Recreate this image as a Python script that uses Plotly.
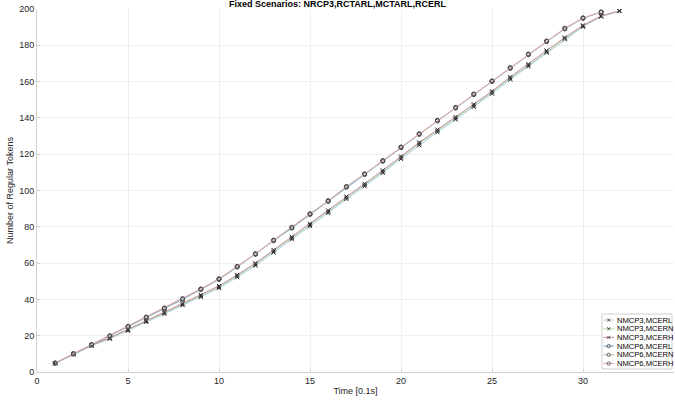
import plotly.graph_objects as go

x3 = list(range(1, 33))
x6 = list(range(1, 32))

n3_L = [4.7, 9.7, 14.4, 18.3, 22.7, 27.5, 32.0, 36.8, 41.3, 46.2, 52.2, 58.6, 65.8, 73.1, 80.3, 87.6,
        95.3, 102.3, 109.7, 117.4, 125.0, 132.1, 139.1, 146.1, 153.3, 161.1, 168.4, 175.9, 183.3, 190.2, 195.8, 198.9]
n3_N = [4.8, 9.9, 14.6, 18.6, 23.1, 28.0, 32.5, 37.3, 41.9, 46.8, 52.9, 59.3, 66.5, 73.8, 81.0, 88.3,
        96.0, 103.0, 110.4, 118.1, 125.8, 132.8, 139.8, 146.8, 154.0, 161.8, 169.0, 176.5, 183.8, 190.6, 196.0, 198.9]
n3_H = [4.9, 10.0, 14.8, 18.9, 23.5, 28.4, 33.0, 37.8, 42.5, 47.4, 53.5, 60.0, 67.2, 74.5, 81.7, 89.0,
        96.7, 103.7, 111.1, 118.8, 126.5, 133.5, 140.5, 147.5, 154.7, 162.5, 169.6, 177.1, 184.3, 191.0, 196.2, 198.9]

n6_L = [4.9, 9.9, 14.9, 19.7, 24.8, 29.9, 34.9, 40.0, 45.4, 51.0, 57.8, 64.8, 72.3, 79.3, 86.8, 94.0,
        101.8, 108.8, 116.1, 123.6, 130.9, 138.3, 145.4, 152.8, 160.0, 167.3, 174.8, 182.0, 189.0, 194.9, 198.3]
n6_N = [4.9, 10.0, 15.0, 19.8, 25.0, 30.1, 35.1, 40.2, 45.6, 51.2, 58.0, 65.0, 72.5, 79.5, 87.0, 94.2,
        102.0, 109.0, 116.3, 123.8, 131.1, 138.5, 145.6, 153.0, 160.2, 167.5, 175.0, 182.2, 189.2, 195.0, 198.3]
n6_H = [5.0, 10.1, 15.1, 20.0, 25.2, 30.3, 35.3, 40.4, 45.8, 51.4, 58.2, 65.2, 72.7, 79.7, 87.2, 94.4,
        102.2, 109.2, 116.5, 124.0, 131.3, 138.7, 145.8, 153.2, 160.4, 167.7, 175.2, 182.4, 189.4, 195.1, 198.3]

names = ["NMCP3,MCERL", "NMCP3,MCERN", "NMCP3,MCERH", "NMCP6,MCERL", "NMCP6,MCERN", "NMCP6,MCERH"]
xs = [x3, x3, x3, x6, x6, x6]
ys = [n3_L, n3_N, n3_H, n6_L, n6_N, n6_H]
line_colors = ["#a9d0ec", "#b2dca6", "#c58994", "#6fa6d6", "#a9c59b", "#e6a7b5"]
symbols = ["x-thin-open", "x-thin-open", "x-thin-open", "circle-open", "circle-open", "circle-open"]
marker_colors = ["#2b2b2b", "#2b2b2b", "#2b2b2b", "#4d4d4d", "#4d4d4d", "#4d4d4d"]

W, H = 675, 402
ML, MR, MT, MB = 37, 1, 9, 30
PW, PH = W - ML - MR, H - MT - MB

fig = go.Figure()
for n, x, y, lc, s, mc in zip(names, xs, ys, line_colors, symbols, marker_colors):
    fig.add_trace(go.Scatter(
        x=x, y=y, name=n, mode="lines+markers", showlegend=False,
        line=dict(color=lc, width=1),
        marker=dict(symbol=s, size=4, color=mc, line=dict(color=mc, width=1)),
    ))

# compact legend (MATLAB-like) built from the series lists
def px2x(px):
    return (px - ML) / PW

def py2y(py):
    return (H - MB - py) / PH

shapes = []
annotations = []
box_l, box_r, box_t, box_b = 602, 672, 314, 369
shapes.append(dict(type="rect", xref="paper", yref="paper",
                   x0=px2x(box_l), x1=px2x(box_r), y0=py2y(box_b), y1=py2y(box_t),
                   line=dict(color="#cfcfcf", width=1), fillcolor="white", layer="above"))
for i, (n, lc, s, mc) in enumerate(zip(names, line_colors, symbols, marker_colors)):
    yc = 320 + i * 8.7
    shapes.append(dict(type="line", xref="paper", yref="paper",
                       x0=px2x(603.5), x1=px2x(614), y0=py2y(yc), y1=py2y(yc),
                       line=dict(color=lc, width=1), layer="above"))
    xa, ya = px2x(608.7), py2y(yc)
    if s.startswith("x"):
        for (a0, b0, a1, b1) in [(-1.5, -1.5, 1.5, 1.5), (-1.5, 1.5, 1.5, -1.5)]:
            shapes.append(dict(type="line", xref="paper", yref="paper", xsizemode="pixel", ysizemode="pixel",
                               xanchor=xa, yanchor=ya, x0=a0, y0=b0, x1=a1, y1=b1,
                               line=dict(color=mc, width=0.8), layer="above"))
    else:
        shapes.append(dict(type="circle", xref="paper", yref="paper", xsizemode="pixel", ysizemode="pixel",
                           xanchor=xa, yanchor=ya, x0=-1.7, y0=-1.7, x1=1.7, y1=1.7,
                           line=dict(color=mc, width=0.8), layer="above"))
    annotations.append(dict(text=n, xref="paper", yref="paper", x=px2x(615.5), y=py2y(yc),
                            xanchor="left", yanchor="middle", showarrow=False, borderpad=0,
                            font=dict(size=7.6, color="#000")))

fig.update_layout(
    width=W, height=H,
    margin=dict(l=ML, r=MR, t=MT, b=MB),
    paper_bgcolor="white", plot_bgcolor="white",
    font=dict(family="Liberation Sans, Arial, sans-serif", size=9, color="#262626"),
    title=dict(text="<b>Fixed Scenarios: NRCP3,RCTARL,MCTARL,RCERL</b>", x=0.5, xanchor="center",
               y=0.998, yanchor="top", yref="container", font=dict(size=9, color="#000")),
    shapes=shapes, annotations=annotations,
)
fig.update_xaxes(range=[0, 35], dtick=5, tick0=0, showgrid=True, gridcolor="#efefef", gridwidth=1,
                 showline=True, linecolor="#d0d0d0", ticks="inside", ticklen=3, tickcolor="#d0d0d0",
                 zeroline=False, title=dict(text="Time [0.1s]", standoff=2, font=dict(size=9)))
fig.update_yaxes(range=[0, 200], dtick=20, tick0=0, showgrid=True, gridcolor="#efefef", gridwidth=1,
                 showline=True, linecolor="#d0d0d0", ticks="inside", ticklen=3, tickcolor="#d0d0d0",
                 zeroline=False, title=dict(text="Number of Regular Tokens", standoff=4, font=dict(size=9)))

fig.write_html("out.html")
